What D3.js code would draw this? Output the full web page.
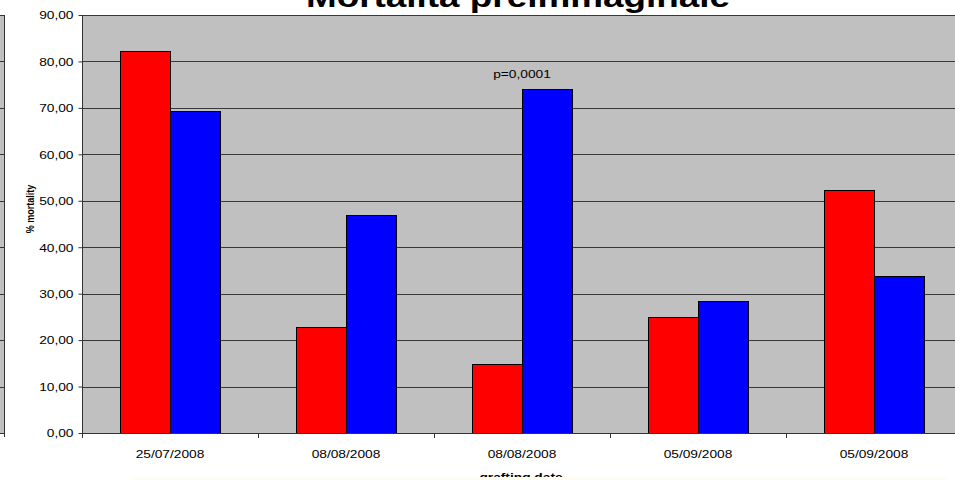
<!DOCTYPE html>
<html>
<head>
<meta charset="utf-8">
<script src="https://cdn.jsdelivr.net/npm/d3@7"></script>
<style>
  html, body { margin: 0; padding: 0; background: #ffffff; }
  svg { display: block; }
  text { font-family: "Liberation Sans", Arial, sans-serif; fill: #000; }
</style>
</head>
<body>
<svg id="chart" width="955" height="480"></svg>
<script>
// Grafting dates (categories) and mortality percentages for the two series
const categories = ["25/07/2008", "08/08/2008", "08/08/2008", "05/09/2008", "05/09/2008"];
const redValues  = [82.25, 22.8, 14.9, 25.0, 52.4];
const blueValues = [69.4, 46.9, 74.1, 28.4, 33.7];
const yTicks = [0, 10, 20, 30, 40, 50, 60, 70, 80, 90];
const seriesNames = ["red", "blue"];
const seriesColors = ["#ff0000", "#0000ff"];
const annotationText = "p=0,0001";
const annotationCategory = 2;
const titleText = "Mortalità preimmaginale";
const yTitle = "% mortality";
const xTitle = "grafting date";

const SX = 1.25; // horizontal stretch applied to all text
const svg = d3.select("#chart");

const plot = { left: 82, right: 962, top: 15, bottom: 433 };

const x = d3.scaleBand()
  .domain(d3.range(categories.length))
  .range([plot.left, plot.right])
  .paddingInner(0).paddingOuter(0);

const xs = d3.scaleBand()
  .domain(seriesNames)
  .range([0, x.bandwidth()])
  .paddingInner(0).paddingOuter(0.75);

const y = d3.scaleLinear().domain([0, 90]).range([plot.bottom, plot.top]);

const fmt = v => v.toFixed(2).replace(".", ",");

// stretched text helper
function sText(g, px, py, str, opts) {
  const t = g.append("text")
    .attr("transform", `translate(${px},${py}) scale(${SX},1)`)
    .attr("text-anchor", opts.anchor || "middle")
    .style("font-size", opts.size + "px")
    .style("font-weight", opts.bold ? "bold" : "normal")
    .text(str);
  return t;
}

// neighbouring panel edge on the far left
const edge = svg.append("g");
edge.append("rect").attr("x", 0).attr("y", plot.top).attr("width", 4).attr("height", plot.bottom - plot.top).attr("fill", "#c0c0c0");
yTicks.forEach(v => {
  edge.append("line").attr("x1", 0).attr("x2", 4)
    .attr("y1", Math.round(y(v)) + 0.5).attr("y2", Math.round(y(v)) + 0.5)
    .attr("stroke", "#333");
});
edge.append("line").attr("x1", 4.5).attr("x2", 4.5).attr("y1", plot.top).attr("y2", plot.bottom + 4).attr("stroke", "#333");

// plot background
svg.append("rect")
  .attr("x", plot.left).attr("y", plot.top)
  .attr("width", plot.right - plot.left).attr("height", plot.bottom - plot.top)
  .attr("fill", "#c0c0c0");

// gridlines
svg.append("g").selectAll("line").data(yTicks).join("line")
  .attr("x1", plot.left).attr("x2", plot.right)
  .attr("y1", d => Math.round(y(d)) + 0.5).attr("y2", d => Math.round(y(d)) + 0.5)
  .attr("stroke", "#383838").attr("stroke-width", 1);

// bars
const groups = svg.append("g").selectAll("g").data(categories.map((c, i) => i)).join("g")
  .attr("transform", i => `translate(${x(i)},0)`);

groups.selectAll("rect")
  .data(i => [redValues[i], blueValues[i]].map((v, k) => ({ key: seriesNames[k], v, color: seriesColors[k] })))
  .join("rect")
  .attr("x", d => Math.round(xs(d.key)) + 0.5)
  .attr("y", d => Math.round(y(d.v)) + 0.5)
  .attr("width", Math.round(xs.bandwidth()))
  .attr("height", d => Math.round(y(0)) - Math.round(y(d.v)))
  .attr("fill", d => d.color)
  .attr("stroke", "#000").attr("stroke-width", 1);

// y axis
const yAxis = svg.append("g")
  .attr("transform", `translate(${plot.left + 0.5},0)`)
  .call(d3.axisLeft(y).tickValues(yTicks).tickSize(4).tickPadding(0).tickFormat(fmt));
yAxis.select(".domain").attr("stroke", "#333").attr("d", `M0,${plot.top}V${plot.bottom}`);
yAxis.selectAll(".tick line").attr("stroke", "#333");
yAxis.selectAll(".tick text")
  .attr("x", null).attr("dy", "0.35em")
  .attr("transform", `translate(-9,0) scale(${SX},1)`)
  .style("font-size", "11px")
  .style("font-family", '"Liberation Sans", Arial, sans-serif')
  .attr("fill", "#000");

// x axis
const xAxisG = svg.append("g");
xAxisG.append("line")
  .attr("x1", plot.left).attr("x2", plot.right)
  .attr("y1", plot.bottom + 0.5).attr("y2", plot.bottom + 0.5)
  .attr("stroke", "#333");
d3.range(categories.length + 1).forEach(i => {
  const px = Math.round(plot.left + i * x.step()) + 0.5;
  xAxisG.append("line").attr("x1", px).attr("x2", px)
    .attr("y1", plot.bottom).attr("y2", plot.bottom + 5).attr("stroke", "#333");
});
categories.forEach((c, i) => {
  sText(xAxisG, x(i) + x.bandwidth() / 2, 458, c, { size: 11 });
});

// annotation above the third group's blue bar
sText(svg, x(annotationCategory) + x.bandwidth() / 2, 78, annotationText, { size: 11 });

// title
sText(svg, 518, 7, titleText, { size: 29.5, bold: true });

// axis titles
svg.append("text")
  .attr("transform", `translate(34,209) rotate(-90) scale(1,${SX})`)
  .attr("text-anchor", "middle")
  .style("font-size", "9px").style("font-weight", "bold")
  .text(yTitle);
sText(svg, 521, 481, xTitle, { size: 11, bold: true });

// strip along the bottom edge
svg.append("rect").attr("x", 132).attr("y", 477).attr("width", 815).attr("height", 3).attr("fill", "#fdfdf0");
</script>
</body>
</html>
